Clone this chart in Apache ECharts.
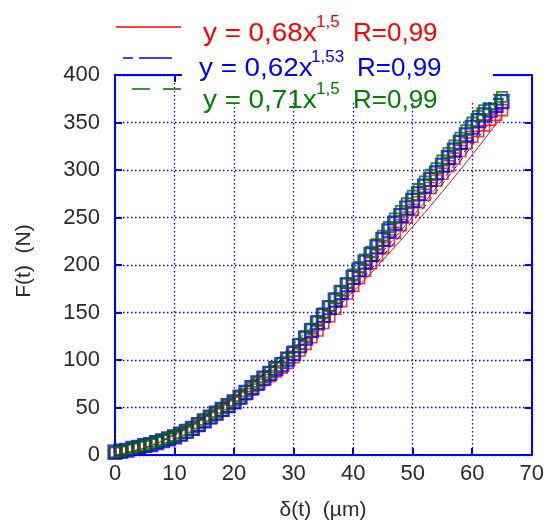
<!DOCTYPE html>
<html><head><meta charset="utf-8">
<script src="https://cdn.jsdelivr.net/npm/echarts@6/dist/echarts.min.js"></script>
<style>html,body{margin:0;padding:0;background:#fff;}#c{width:547px;height:521px;}</style>
</head><body><div id="c"></div>
<script>
// ---- data ----
const deltaUm = [0,1,2,3,4,5,6,7,8,9,10,11,12,13,14,15,16,17,18,19,20,21,22,23,24,25,26,27,28,29,30,31,32,33,34,35,36,37,38,39,40,41,42,43,44,45,46,47,48,49,50,51,52,53,54,55,56,57,58,59,60,61,62,63,64,65];
const forceBlue = [3,4,5,7,8,10,11,13,15,17, 19,22,25,28,32,36,40,44,48,52, 56,61,66,71,76,81,86,91,95,101, 107,115,123,131,139,147,155,163,171,179, 187,195,203,211,219,227,236,244,252,260, 268,275,283,290,297,305,313,321,329,337, 345,352,358,363,368,372];
const forceGreen = [3,4,6,7,9,10,12,14,16,18, 20,23,26,29,33,37,41,45,49,53, 57,62,67,72,77,82,87,92,97,102, 109,117,125,133,141,149,157,165,173,181, 190,198,206,214,222,231,240,249,257,265, 273,280,288,295,302,310,318,326,334,342, 350,357,363,369,374,377];
const forceRed = [2,3,5,6,8,9,11,13,15,17, 19,21,24,27,31,35,39,43,47,51, 55,60,64,69,74,79,83,88,92,97, 103,110,117,124,131,139,146,154,162,170, 178,186,194,202,210,218,226,234,242,250, 258,266,274,281,289,296,304,312,320,328, 335,341,347,353,358,363];
// fitted curves, sampled every 5 µm
const fitX = [0,5,10,15,20,25,30,35,40,45,50,55,60,65];
const fitRed = [0,7.6,21.5,39.5,60.8,85.0,111.7,140.8,172.0,205.3,240.4,277.4,316.0,356.4];
const fitBlue = [0,7.3,21.0,39.1,60.7,85.4,112.8,142.8,175.2,209.8,246.5,285.2,325.9,368.2];
const fitGreen = [0,7.9,22.4,41.2,63.5,88.8,116.7,147.0,179.6,214.3,251.0,289.6,330.0,372.0];
const xTicks = {min:0, max:70, step:10};
const yTicks = {min:0, max:400, step:50};
const legendTexts = [
  {main:'y = 0,68x', sup:'1,5', r:'R=0,99'},
  {main:'y = 0,62x', sup:'1,53', r:'R=0,99'},
  {main:'y = 0,71x', sup:'1,5', r:'R=0,99'}
];
const xName = 'δ(t)  (µm)';
const yName = 'F(t)  (N)';

// ---- chart ----
const RED='#ff0000', BLUE='#0000ff', GREEN='#006e00';
const FONT='Liberation Sans, Arial, sans-serif';
const pairs = (xs, ys) => xs.map((x,i)=>[x, ys[i]]);
const chart = echarts.init(document.getElementById('c'), null, {renderer:'canvas'});

const axisLineS = {show:true, onZero:false, lineStyle:{color:BLUE, width:2}};
const tickS = {show:true, inside:true, length:7, lineStyle:{color:BLUE, width:2}};
const splitS = {show:true, lineStyle:{color:BLUE, type:[1.5,2.5], width:1.3}};

const option = {
  animation:false,
  backgroundColor:'#fff',
  grid:{left:115, right:11, top:75, bottom:66, containLabel:false},
  xAxis:[
    {type:'value', min:xTicks.min, max:xTicks.max, interval:xTicks.step, position:'bottom',
     axisLine:axisLineS, axisTick:tickS, splitLine:splitS,
     axisLabel:{color:'#2a2a2a', fontSize:22, fontFamily:FONT, margin:8}},
    {type:'value', min:xTicks.min, max:xTicks.max, interval:xTicks.step, position:'top',
     axisLine:axisLineS, axisTick:tickS, splitLine:{show:false}, axisLabel:{show:false}}
  ],
  yAxis:[
    {type:'value', min:yTicks.min, max:yTicks.max, interval:yTicks.step, position:'left',
     axisLine:axisLineS, axisTick:tickS, splitLine:splitS,
     axisLabel:{color:'#2a2a2a', fontSize:22, fontFamily:FONT, margin:15}},
    {type:'value', min:yTicks.min, max:yTicks.max, interval:yTicks.step, position:'right',
     axisLine:axisLineS, axisTick:tickS, splitLine:{show:false}, axisLabel:{show:false}}
  ],
  series:[
    {type:'line', data:pairs(fitX, fitRed), smooth:true, showSymbol:false, z:2,
     lineStyle:{color:RED, width:1}},
    {type:'line', data:pairs(fitX, fitBlue), smooth:true, showSymbol:false, z:2,
     lineStyle:{color:BLUE, width:1, type:[6,4]}},
    {type:'line', data:pairs(fitX, fitGreen), smooth:true, showSymbol:false, z:2,
     lineStyle:{color:GREEN, width:1, type:[6,4]}},
    {type:'scatter', data:pairs(deltaUm, forceRed), symbol:'rect', symbolSize:11, z:3,
     itemStyle:{color:'rgba(255,255,255,0)', borderColor:RED, borderWidth:1.6}},
    {type:'scatter', data:pairs(deltaUm, forceBlue), symbol:'rect', symbolSize:13, z:4,
     itemStyle:{color:'rgba(255,255,255,0)', borderColor:BLUE, borderWidth:2.2}},
    {type:'scatter', data:pairs(deltaUm, forceGreen), symbol:'rect', symbolSize:10, z:5,
     itemStyle:{color:'rgba(255,255,255,0)', borderColor:GREEN, borderWidth:1.8}},
    {type:'scatter', data:pairs(deltaUm, forceRed), symbol:'diamond', symbolSize:3, z:6,
     itemStyle:{color:RED}}
  ],
  graphic:[]
};

const g = option.graphic;
// legend background
g.push({type:'rect', z:100, shape:{x:182, y:0, width:311, height:102}, style:{fill:'#fff'}});
// legend line samples
g.push({type:'line', z:101, shape:{x1:116, y1:27, x2:181, y2:27}, style:{stroke:RED, lineWidth:1.6}});
g.push({type:'line', z:101, shape:{x1:123, y1:58, x2:172, y2:58}, style:{stroke:BLUE, lineWidth:1.6, lineDash:[10,6,33,60]}});
g.push({type:'line', z:101, shape:{x1:132, y1:89, x2:181, y2:89}, style:{stroke:GREEN, lineWidth:1.6, lineDash:[18,13,18,60]}});
// legend texts
const lcols=[RED, BLUE, '#008000'];
const lpos=[
  {x:203, y:34, sx:316, sy:22, rx:353},
  {x:199, y:69, sx:311, sy:57, rx:357},
  {x:203, y:101, sx:316, sy:89, rx:353}
];
legendTexts.forEach((t,i)=>{
  const p=lpos[i], c=lcols[i];
  g.push({type:'text', z:102, x:p.x, y:p.y, scaleX:1.07, style:{text:t.main, fill:c, font:'26px '+FONT, textVerticalAlign:'middle'}});
  g.push({type:'text', z:102, x:p.sx, y:p.sy, style:{text:t.sup, fill:c, font:'17px '+FONT, textVerticalAlign:'middle'}});
  g.push({type:'text', z:102, x:p.rx, y:p.y, style:{text:t.r, fill:c, font:'26px '+FONT, textVerticalAlign:'middle'}});
});
// axis titles
g.push({type:'text', z:102, x:323, y:510, style:{text:xName, fill:'#2a2a2a', font:'21px '+FONT, textAlign:'center', textVerticalAlign:'middle'}});
g.push({type:'text', z:102, x:24, y:261, rotation:Math.PI/2, style:{text:yName, fill:'#2a2a2a', font:'21px '+FONT, textAlign:'center', textVerticalAlign:'middle'}});

chart.setOption(option);
</script>
</body></html>
